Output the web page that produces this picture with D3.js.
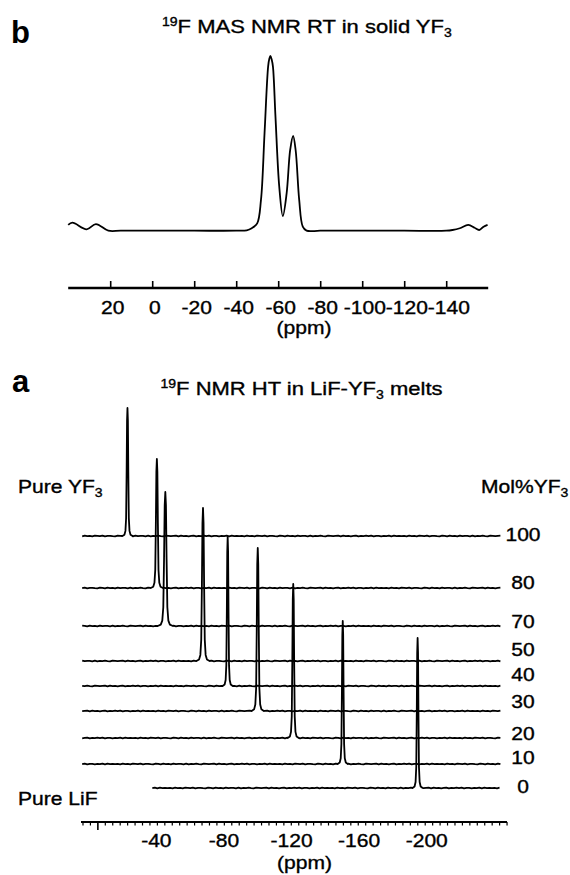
<!DOCTYPE html>
<html>
<head>
<meta charset="utf-8">
<script src="https://cdn.jsdelivr.net/npm/d3@7"></script>
<style>
  html, body { margin: 0; padding: 0; background: #fff; }
  svg { display: block; }
  text { font-family: "Liberation Sans", Arial, Helvetica, sans-serif; fill: #000; }
  text.lt { stroke: #000; stroke-width: 0.35px; }
</style>
</head>
<body>
<svg id="chart" width="570" height="875"></svg>
<script>
// ---------- DATA ----------
// Panel b: 19F MAS NMR RT in solid YF3 (ppm, relative intensity, tallest peak = 100)
const topPpm = [40, 38, 31.2, 26.8, 20.9, 15, 0, -20, -40, -45, -47.4, -50.0, -51.8, -53.5, -55.2, -55.8, -56.3, -56.9, -57.5, -58.7, -60.5, -62.2, -64.0, -65.7, -67.1, -68.3, -70.0, -71.7, -73.5, -80, -100, -120, -140, -143, -146.5, -150.5, -153.5, -155.7, -157.8, -159.7];
const topInt = [3.3, 4.6, 0.8, 3.8, 0, 0, 0, 0, 0, 0.2, 1.4, 4.2, 17.6, 55.9, 93.9, 98.6, 100, 98, 93.9, 65.3, 25.2, 8.4, 21.2, 46.2, 54.2, 46.2, 17.6, 2.3, 0, 0, 0, 0, 0, 0.4, 1.4, 3.3, 1.7, 0.4, 2.3, 3.3];
const topTicks = [20, 0, -20, -40, -60, -80, -100, -120, -140];

// Panel a: 19F NMR HT in LiF-YF3 melts
const molPct     = ["100", "80", "70", "50", "40", "30", "20", "10", "0"];
const peakPpm    = [-23.2, -40.6, -45.6, -67.9, -82.5, -100.3, -121.3, -150.6, -194.9];
const peakHeight = [128, 129, 134, 153, 149, 163, 154, 143, 150];
const peakWidth  = [1.0, 1.2, 1.5, 1.3, 1.0, 1.2, 1.1, 1.0, 1.0];
const traceOffset = [286, 234, 196, 161, 136, 111, 84, 58, 34];
const labelLevel  = [287, 239, 200, 172, 147, 120, 88, 64, 35];
const traceStart = [3.6, 3.6, 3.6, 3.6, 3.6, 3.6, 3.6, 3.6, -37.9];
const traceEnd   = [-244.7, -244.7, -244.7, -244.7, -244.7, -244.7, -244.7, -244.7, -244.7];
// peak line shape: [ppm offset, fraction of height]
const peakProfile = [[3, 0], [1.8, 0.01], [1.2, 0.04], [0.8, 0.14], [0.5, 0.5], [0.25, 0.9], [0, 1], [-0.25, 0.9], [-0.5, 0.5], [-0.8, 0.14], [-1.2, 0.04], [-1.8, 0.01], [-3, 0]];
// baseline noise read as small jitter
const noise = [0.3,-0.4,0.5,-0.2,0.1,-0.6,0.4,0.2,-0.3,0.6,-0.5,0.1,0.3,-0.2,-0.4,0.5,0.2,-0.6,0.4,-0.1,0.3,-0.5,0.6,-0.3,0.1,0.2,-0.4,0.5,-0.6,0.3,-0.2,0.4,-0.1,-0.5,0.6,0.2,-0.3,0.1,0.4,-0.6,0.5,-0.2,0.3,-0.4,0.1,0.6,-0.5,0.2,-0.1,0.4,-0.3,0.5,-0.6,0.2,0.3,-0.4,0.1,-0.2,0.6,-0.5,0.4,-0.3,0.2,-0.1];
const baseStep = 1.5;
const botTicks = [-40, -80, -120, -160, -200];
const rawMinorStep = 5;

// ---------- DRAW ----------
const svg = d3.select("#chart");
const FS = 18;     // text size
const SX = 1.17;   // horizontal stretch of the lettering in the figure

function sText(x, y, size, anchor) {
  return svg.append("g").attr("transform", `translate(${x},${y}) scale(${SX},1)`)
    .append("text").attr("class", "lt").attr("font-size", size).attr("text-anchor", anchor || "start");
}

// ===== Panel b =====
const xT = d3.scaleLinear().domain([40, -160]).range([68.2, 488.2]);
const yT = d3.scaleLinear().domain([0, 100]).range([230.7, 56]);

svg.append("text").attr("x", 11).attr("y", 43).attr("font-size", 31).attr("font-weight", "bold").text("b");
const tb = sText(162, 33, 18.8);
tb.append("tspan").attr("font-size", 12).attr("dy", -7).text("19");
tb.append("tspan").attr("dy", 7).text("F MAS NMR RT in solid YF");
tb.append("tspan").attr("font-size", 12).attr("dy", 4).text("3");

const topData = topPpm.map((p, i) => [p, topInt[i]]);
svg.append("path").datum(topData)
  .attr("fill", "none").attr("stroke", "#000").attr("stroke-width", 1.8).attr("stroke-linejoin", "round")
  .attr("d", d3.line().x(d => xT(d[0])).y(d => yT(d[1])).curve(d3.curveCatmullRom.alpha(0.5)));

const axT = svg.append("g").attr("transform", "translate(0,288)");
axT.call(d3.axisTop(xT).tickValues(topTicks).tickSize(7).tickFormat(""));
axT.select(".domain").remove();
axT.selectAll(".tick line").attr("stroke", "#000").attr("stroke-width", 1.6);
svg.append("line").attr("x1", xT(40)).attr("x2", xT(-160)).attr("y1", 288).attr("y2", 288)
  .attr("stroke", "#000").attr("stroke-width", 2.5);
const axTL = svg.append("g").attr("transform", "translate(0,288)");
axTL.call(d3.axisBottom(xT).tickValues(topTicks).tickSize(0).tickPadding(13.6).tickFormat(d => String(d)));
axTL.select(".domain").remove();
axTL.selectAll(".tick text").attr("class", "lt").attr("font-size", FS).attr("font-family", null).attr("fill", "#000")
  .attr("x", 1.8).attr("transform", `scale(${SX},1)`);
sText(304, 333.5, FS, "middle").text("(ppm)");

// ===== Panel a =====
const xB = d3.scaleLinear().domain([4.3, -247.8]).range([81, 507]);
const xRaw = d3.scaleLinear().domain([11, -275.3]).range([81, 507]);
const yB = d3.scaleLinear().domain([0, 420]).range([822, 402]);

svg.append("text").attr("x", 12).attr("y", 392).attr("font-size", 31).attr("font-weight", "bold").text("a");
const ta = sText(160.5, 395, 18.8);
ta.append("tspan").attr("font-size", 12).attr("dy", -7).text("19");
ta.append("tspan").attr("dy", 7).text("F NMR HT in LiF-YF");
ta.append("tspan").attr("font-size", 12).attr("dy", 4).text("3");
ta.append("tspan").attr("dy", -4).text(" melts");

const py = sText(18, 493, FS);
py.append("tspan").text("Pure YF");
py.append("tspan").attr("font-size", 12).attr("dy", 4).text("3");
const mp = sText(481, 493, FS);
mp.append("tspan").text("Mol%YF");
mp.append("tspan").attr("font-size", 12).attr("dy", 4).text("3");
sText(18, 805, FS).text("Pure LiF");

const lineB = d3.line().x(d => xB(d[0])).y(d => yB(d[1]));
molPct.forEach((m, i) => {
  const pts = [];
  let k = i * 7;
  for (let p = traceStart[i]; p >= traceEnd[i]; p -= baseStep) {
    k++;
    if (Math.abs(p - peakPpm[i]) < 3 * peakWidth[i]) continue;
    pts.push([p, traceOffset[i] + 0.7 * noise[k % noise.length]]);
  }
  peakProfile.forEach(([dp, f]) => {
    pts.push([peakPpm[i] + dp * peakWidth[i], traceOffset[i] + f * peakHeight[i]]);
  });
  pts.sort((a, b) => b[0] - a[0]);
  svg.append("path").datum(pts)
    .attr("fill", "none").attr("stroke", "#000").attr("stroke-width", 1.8)
    .attr("stroke-linejoin", "round").attr("d", lineB);
  sText(523, yB(labelLevel[i]), FS, "middle").attr("dy", "0.36em").text(m);
});

// bottom axis
svg.append("line").attr("x1", 81).attr("x2", 507).attr("y1", 822).attr("y2", 822)
  .attr("stroke", "#000").attr("stroke-width", 2);
const minorVals = d3.range(10, -276, -rawMinorStep).filter(v => v !== 0);
const axMin = svg.append("g").attr("transform", "translate(0,822)");
axMin.call(d3.axisBottom(xRaw).tickValues(minorVals).tickSize(3.5).tickFormat(""));
axMin.select(".domain").remove();
axMin.selectAll(".tick line").attr("stroke", "#000").attr("stroke-width", 1.2);
const axMaj = svg.append("g").attr("transform", "translate(0,822)");
axMaj.call(d3.axisBottom(xRaw).tickValues([0]).tickSize(8).tickFormat(""));
axMaj.select(".domain").remove();
axMaj.selectAll(".tick line").attr("stroke", "#000").attr("stroke-width", 1.6);
const axBL = svg.append("g").attr("transform", "translate(0,822)");
axBL.call(d3.axisBottom(xB).tickValues(botTicks).tickSize(0).tickPadding(12.2).tickFormat(d => String(d)));
axBL.select(".domain").remove();
axBL.selectAll(".tick text").attr("class", "lt").attr("font-size", FS).attr("font-family", null).attr("fill", "#000")
  .attr("transform", `scale(${SX},1)`);
sText(304.5, 869, FS, "middle").text("(ppm)");
</script>
</body>
</html>
